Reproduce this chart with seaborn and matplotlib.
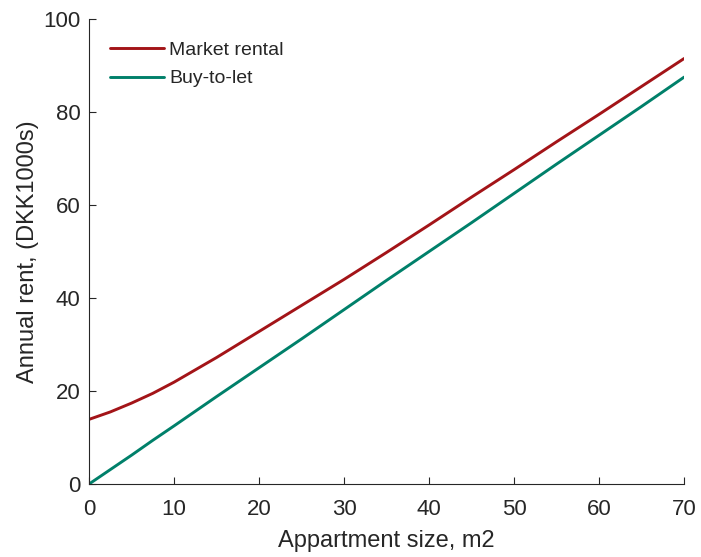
import pandas as pd
import matplotlib
matplotlib.use("Agg")
import matplotlib.pyplot as plt
import seaborn as sns

# apartment size (m2)
sizes = [0, 2.5, 5, 7.5, 10, 15, 20, 25, 30, 35, 40, 45, 50, 55, 60, 65, 70]
# annual rent, DKK 1000s
market_rental = [13.9, 15.5, 17.4, 19.5, 21.9, 27.2, 32.8, 38.4, 44.0, 49.8, 55.7,
                 61.7, 67.6, 73.6, 79.5, 85.5, 91.5]
buy_to_let = [0.0, 3.1, 6.2, 9.4, 12.5, 18.8, 25.0, 31.2, 37.5, 43.8, 50.0,
              56.2, 62.5, 68.8, 75.0, 81.2, 87.5]

series_names = ["Market rental", "Buy-to-let"]
colors = ["#a31418", "#00806a"]

df = pd.concat([
    pd.DataFrame({"size": sizes, "rent": market_rental, "series": series_names[0]}),
    pd.DataFrame({"size": sizes, "rent": buy_to_let, "series": series_names[1]}),
])

sns.set_style("ticks")
plt.rcParams["font.family"] = ["Liberation Sans", "DejaVu Sans"]
plt.rcParams["text.color"] = "#262626"
plt.rcParams["axes.labelcolor"] = "#262626"

fig = plt.figure(figsize=(7.01, 5.57), dpi=100)
ax = fig.add_axes([0.127, 0.131, 0.849, 0.835])

sns.lineplot(data=df, x="size", y="rent", hue="series", palette=colors,
             linewidth=2.1, ax=ax)

ax.set_xlim(0, 70)
ax.set_ylim(0, 100)
ax.set_xticks(range(0, 71, 10))
ax.set_yticks(range(0, 101, 20))
ax.set_xlabel("Appartment size, m2", fontsize=17, labelpad=7)
ax.set_ylabel("Annual rent, (DKK1000s)", fontsize=17, labelpad=3.5)
ax.tick_params(direction="in", length=5, width=0.8, labelsize=16, colors="#262626")
ax.tick_params(axis="x", pad=11)
ax.tick_params(axis="y", pad=6)
for side in ["left", "bottom"]:
    ax.spines[side].set_color("#262626")
    ax.spines[side].set_linewidth(0.8)
sns.despine(ax=ax)

leg = ax.legend(frameon=False, fontsize=14, loc="upper left", handlelength=2.8,
                handletextpad=0.25, labelspacing=0.55, borderaxespad=0.4,
                bbox_to_anchor=(0.009, 0.985))
for line in leg.get_lines():
    line.set_linewidth(2.1)

fig.savefig("out.png", dpi=100)
